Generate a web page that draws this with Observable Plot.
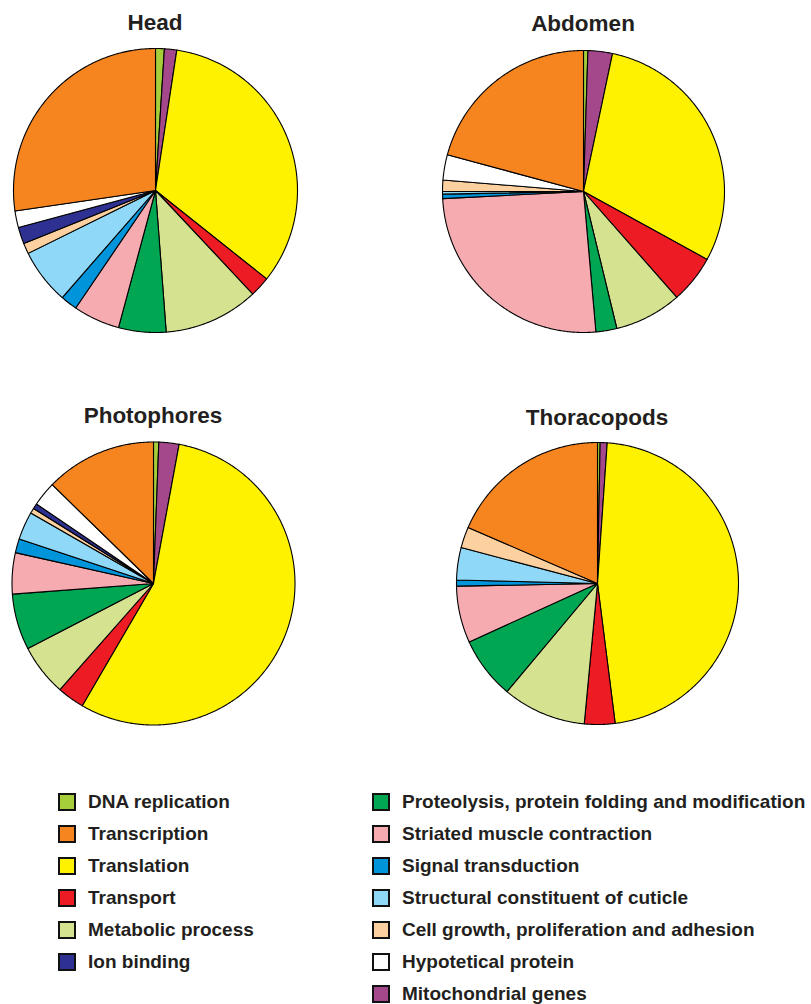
<!DOCTYPE html>
<html>
<head>
<meta charset="utf-8">
<script src="https://cdn.jsdelivr.net/npm/d3@7"></script>
<script src="https://cdn.jsdelivr.net/npm/@observablehq/plot@0.6"></script>
<style>
  html, body { margin: 0; padding: 0; background: #fff; }
  #root { position: relative; width: 811px; height: 1004px; font-family: "Liberation Sans", Arial, sans-serif; color: #231f20; }
  .pie { position: absolute; }
  .title { position: absolute; font-weight: bold; font-size: 22.5px; transform: translate(-50%, -50%); white-space: nowrap; }
  .leg { position: absolute; display: flex; align-items: center; font-weight: bold; font-size: 19px; white-space: nowrap; transform: translateY(-50%); }
  .sw { width: 14px; height: 14px; border: 2px solid #111; margin-right: 12px; box-sizing: content-box; }
</style>
</head>
<body>
<div id="root"></div>
<script>
// ---- data ----
const tissues = ["Head", "Abdomen", "Photophores", "Thoracopods"];
const categories = [
  "DNA replication", "Transcription", "Translation", "Transport", "Metabolic process", "Ion binding",
  "Proteolysis, protein folding and modification", "Striated muscle contraction", "Signal transduction",
  "Structural constituent of cuticle", "Cell growth, proliferation and adhesion", "Hypotetical protein",
  "Mitochondrial genes"
];
// order of slices, clockwise from 12 o'clock
const pieOrder = [
  "DNA replication", "Mitochondrial genes", "Translation", "Transport", "Metabolic process",
  "Proteolysis, protein folding and modification", "Striated muscle contraction", "Signal transduction",
  "Structural constituent of cuticle", "Cell growth, proliferation and adhesion", "Ion binding",
  "Hypotetical protein", "Transcription"
];
// percentages (in pieOrder)
const head        = [1.0, 1.4, 33.3, 2.3, 10.8, 5.4, 5.3, 1.9, 6.3, 1.2, 1.9, 1.9, 27.3];
const abdomen     = [0.5, 2.8, 29.7, 5.5, 7.7, 2.4, 25.6, 0.5, 0.3, 1.3, 0.0, 2.9, 20.8];
const photophores = [0.6, 2.3, 55.5, 3.1, 5.9, 6.4, 4.7, 1.6, 3.2, 0.6, 0.6, 2.8, 12.7];
const thoracopods = [0.3, 0.8, 46.9, 3.5, 9.6, 7.1, 6.5, 0.7, 3.7, 2.4, 0.0, 0.0, 18.5];

// ---- styles ----
const palette = [
  "#a6ce39", "#f6851f", "#fff200", "#ed1c24", "#d5e28f", "#2e3192",
  "#00a651", "#f6abb0", "#0095da", "#8fd8f8", "#fdd09f", "#ffffff", "#a4488b"
];
const series = [head, abdomen, photophores, thoracopods];
const layout = [
  {cx: 155, cy: 190, r: 142, tx: 155, ty: 23},
  {cx: 583, cy: 191, r: 141, tx: 583, ty: 24},
  {cx: 153, cy: 583, r: 141.5, tx: 153, ty: 416},
  {cx: 597, cy: 583, r: 141, tx: 597, ty: 418}
];

const root = document.getElementById("root");

function slicePolygons(values) {
  const arcs = d3.pie().sort(null).value(d => d.v)(pieOrder.map((c, i) => ({c, v: values[i]})));
  const pts = [];
  arcs.forEach((a, k) => {
    if (a.data.v <= 0) return;
    pts.push({k, cat: a.data.c, x: 0, y: 0});
    const n = Math.max(2, Math.ceil((a.endAngle - a.startAngle) / (Math.PI / 360)));
    for (let j = 0; j <= n; j++) {
      const t = a.startAngle + (a.endAngle - a.startAngle) * j / n;
      pts.push({k, cat: a.data.c, x: Math.sin(t), y: Math.cos(t)});
    }
    pts.push({k, cat: a.data.c, x: 0, y: 0});
  });
  return pts;
}

tissues.forEach((name, i) => {
  const L = layout[i];
  const size = 300;
  const m = (size - 2 * L.r) / 2;
  const chart = Plot.plot({
    width: size, height: size,
    margin: m,
    x: {domain: [-1, 1], axis: null},
    y: {domain: [-1, 1], axis: null},
    color: {domain: categories, range: palette, type: "ordinal"},
    style: {overflow: "visible", background: "transparent"},
    marks: [
      Plot.line(slicePolygons(series[i]), {
        x: "x", y: "y", z: "k", fill: "cat",
        stroke: "#000", strokeWidth: 1.1, strokeLinejoin: "round"
      })
    ]
  });
  const wrap = document.createElement("div");
  wrap.className = "pie";
  wrap.style.left = (L.cx - size / 2) + "px";
  wrap.style.top = (L.cy - size / 2) + "px";
  wrap.appendChild(chart);
  root.appendChild(wrap);

  const t = document.createElement("div");
  t.className = "title";
  t.style.left = L.tx + "px";
  t.style.top = L.ty + "px";
  t.textContent = name;
  root.appendChild(t);
});

// legend
categories.forEach((c, i) => {
  const left = i < 6;
  const row = left ? i : i - 6;
  const d = document.createElement("div");
  d.className = "leg";
  d.style.left = (left ? 58 : 372) + "px";
  d.style.top = (802 + row * 32) + "px";
  const sw = document.createElement("div");
  sw.className = "sw";
  sw.style.background = palette[i];
  d.appendChild(sw);
  const s = document.createElement("span");
  s.textContent = c;
  d.appendChild(s);
  root.appendChild(d);
});
</script>
</body>
</html>
